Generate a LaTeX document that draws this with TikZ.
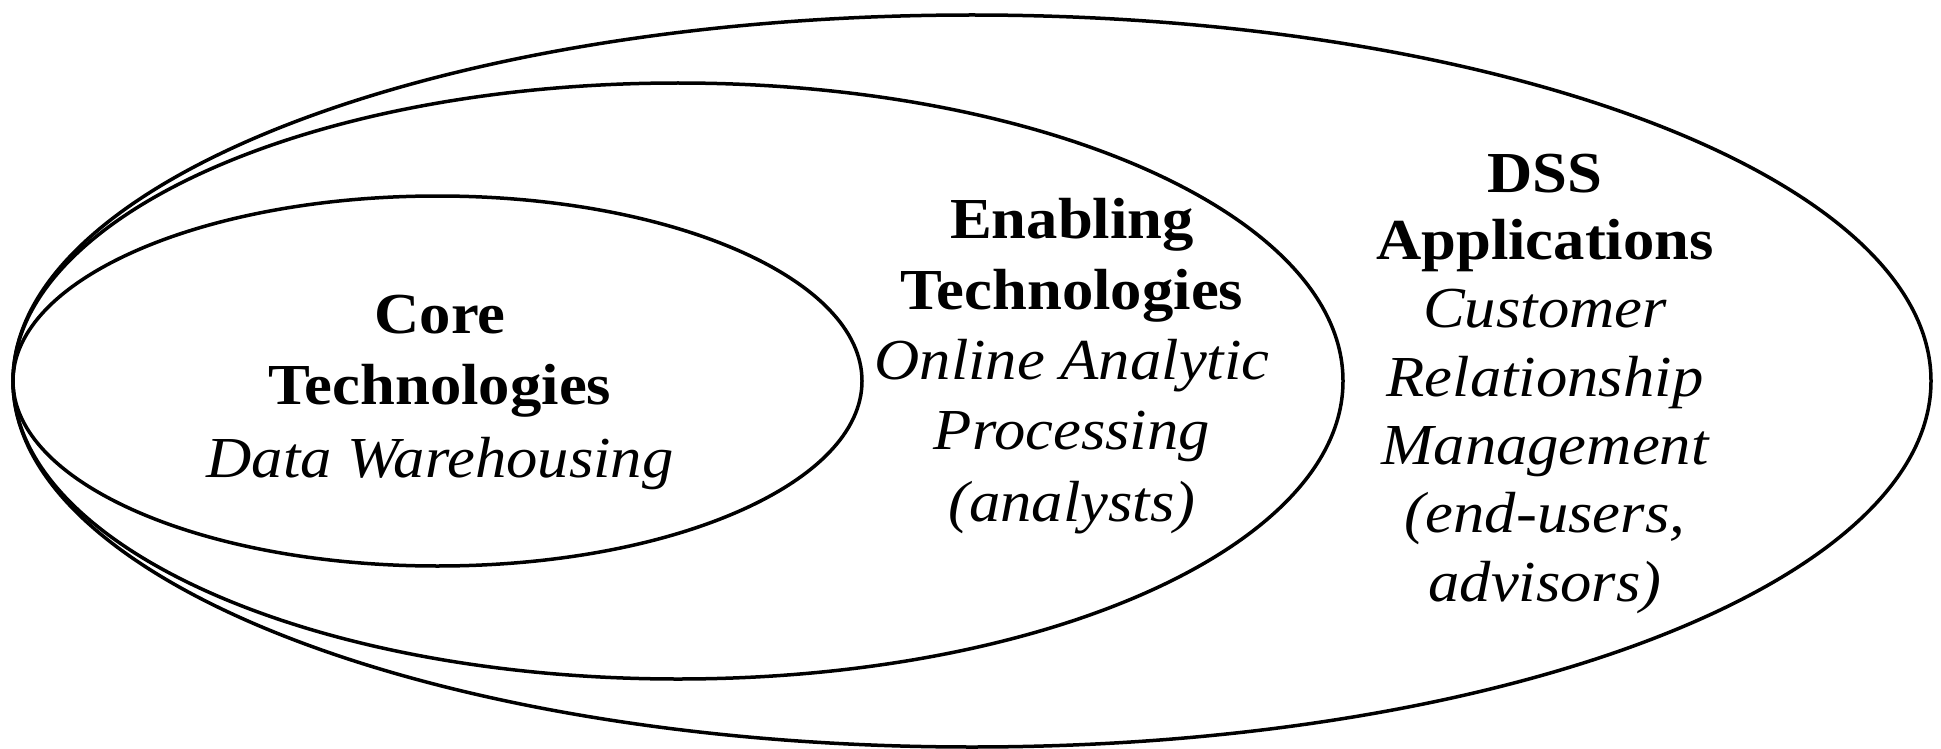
\documentclass[tikz,border=0pt]{standalone}
\usepackage{fontspec}
\setmainfont[FakeStretch=1.08]{Liberation Serif}
\begin{document}
\begin{tikzpicture}[x=1pt,y=-1pt,
  ring/.style={draw=black,line width=3.5pt},
  head/.style={inner sep=0pt,anchor=base,font=\fontsize{58}{70}\selectfont\bfseries},
  sub/.style={inner sep=0pt,anchor=base,font=\fontsize{58}{70}\selectfont\itshape}]
\useasboundingbox (0,0) rectangle (1941,749);
\fill[white] (0,0) rectangle (1941,749);
\draw[ring] (972,381) ellipse [x radius=959, y radius=366];
\draw[ring] (678,381) ellipse [x radius=665, y radius=298];
\draw[ring] (437.5,381) ellipse [x radius=424.5, y radius=185];
% Core Technologies
\node[head] (core1) at (440,333) {Core};
\node[head] (core2) at (440,404) {Technologies};
\node[sub]  (core3) at (440,477) {Data Warehousing};
% Enabling Technologies
\node[head] (enab1) at (1072,238) {Enabling};
\node[head] (enab2) at (1072,309) {Technologies};
\node[sub]  (enab3) at (1072,379) {Online Analytic};
\node[sub]  (enab4) at (1072,449) {Processing};
\node[sub]  (enab5) at (1072,521) {(analysts)};
% DSS Applications
\node[head] (dss1) at (1545,192) {DSS};
\node[head] (dss2) at (1545,259) {Applications};
\node[sub]  (dss3) at (1545,327) {Customer};
\node[sub]  (dss4) at (1545,396) {Relationship};
\node[sub]  (dss5) at (1545,464) {Management};
\node[sub]  (dss6) at (1545,532) {(end-users,};
\node[sub]  (dss7) at (1545,601) {advisors)};
\end{tikzpicture}
\end{document}
